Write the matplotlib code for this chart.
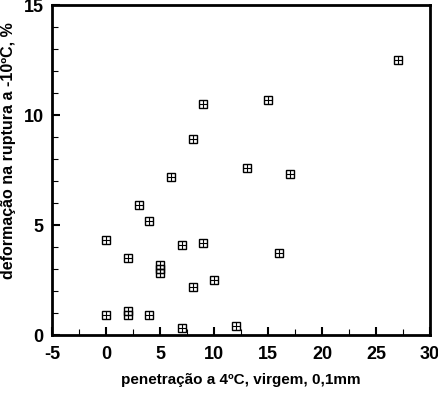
import numpy as np
import matplotlib
matplotlib.use("Agg")
import matplotlib.pyplot as plt
from matplotlib.ticker import MultipleLocator

# penetração (0,1mm) vs deformação na ruptura (%)
penetracao = [0, 0, 2, 2, 2, 3, 4, 4, 5, 5, 5, 6, 7, 7, 8, 8, 9, 9, 10, 12, 13, 15, 16, 17, 27]
deformacao = [0.9, 4.3, 3.5, 1.1, 0.9, 5.9, 5.2, 0.9, 3.2, 3.0, 2.8, 7.2, 4.1, 0.3, 8.9, 2.2,
              10.5, 4.2, 2.5, 0.4, 7.6, 10.7, 3.75, 7.3, 12.5]

xticks = [-5, 0, 5, 10, 15, 20, 25, 30]
yticks = [0, 5, 10, 15]

plt.rcParams['font.family'] = ['Liberation Sans', 'DejaVu Sans']
plt.rcParams['font.weight'] = 'bold'
plt.rcParams['axes.unicode_minus'] = False

fig = plt.figure(figsize=(4.38, 3.96), dpi=100)
ax = fig.add_axes([0.119, 0.154, 0.863, 0.833])

ax.plot(penetracao, deformacao, 's', ms=5.5, mfc='none', mec='black', mew=1.0)
ax.plot(penetracao, deformacao, '+', ms=5.5, mec='black', mew=0.8)

ax.set_xlim(-5, 30)
ax.set_ylim(0, 15)
ax.set_xticks(xticks)
ax.set_yticks(yticks)
ax.xaxis.set_minor_locator(MultipleLocator(2.5))
ax.yaxis.set_minor_locator(MultipleLocator(1))
ax.tick_params(which='major', direction='in', length=6, width=1.5, labelsize=13)
ax.tick_params(axis='x', which='major', pad=8)
ax.tick_params(axis='y', which='major', pad=6)
ax.tick_params(which='minor', direction='in', length=4, width=0.8)
for s in ax.spines.values():
    s.set_linewidth(2)

ax.set_xlabel('penetração a 4ºC, virgem, 0,1mm', fontsize=11, fontweight='bold', labelpad=7)
ax.set_ylabel('deformação na ruptura a -10ºC, %', fontsize=11.5, fontweight='bold')
ax.yaxis.set_label_coords(-0.095, 0.56)

fig.savefig('out.png', dpi=100)
